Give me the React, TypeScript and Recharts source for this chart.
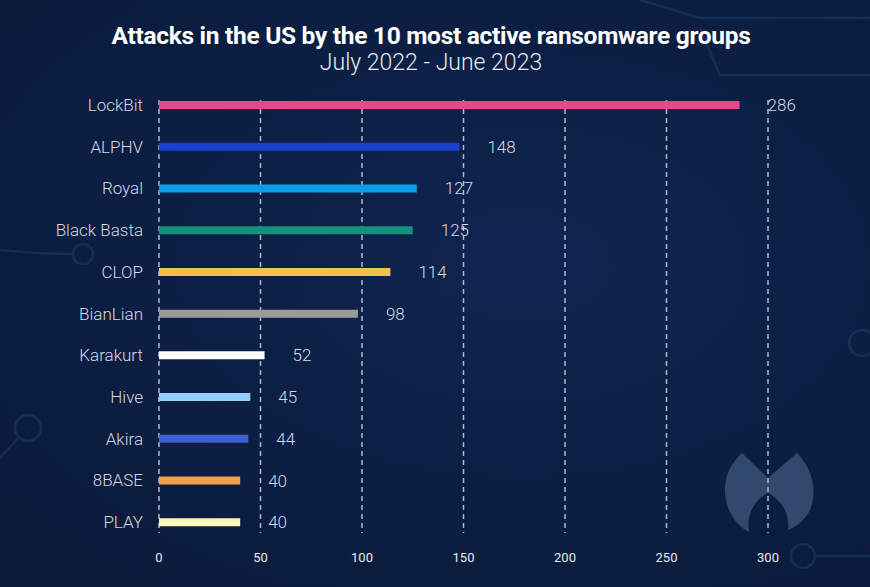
import React from "react";
import { BarChart, Bar, XAxis, YAxis, CartesianGrid, Cell, LabelList } from "recharts";

const groups = ["LockBit", "ALPHV", "Royal", "Black Basta", "CLOP", "BianLian", "Karakurt", "Hive", "Akira", "8BASE", "PLAY"];
const attacks = [286, 148, 127, 125, 114, 98, 52, 45, 44, 40, 40];
const barColors = ["#e8488a", "#1a40d0", "#0b9eea", "#14917f", "#f0c14b", "#9a9a9a", "#ffffff", "#8fcff8", "#3c5fd2", "#f2a04f", "#fff6bb"];
const xTicks = [0, 50, 100, 150, 200, 250, 300];

const title = "Attacks in the US by the 10 most active ransomware groups";
const subtitle = "July 2022 - June 2023";

const data = groups.map((g, i) => ({ name: g, value: attacks[i] }));

const FONT = "Roboto, 'Noto Sans', sans-serif";

export default function App() {
  return (
    <div
      style={{
        position: "absolute",
        left: 0,
        top: 0,
        width: 870,
        height: 587,
        overflow: "hidden",
        background: "radial-gradient(ellipse at 60% 45%, #0f2550 0%, #0c1f44 45%, #0a1a38 100%)",
        fontFamily: FONT,
      }}
    >
      <svg width={870} height={587} style={{ position: "absolute", left: 0, top: 0 }}>
        <g fill="none" stroke="#17335f" strokeWidth={2.5} opacity={0.8}>
          <path d="M640,0 L700,18 L870,18" />
          <path d="M700,28 L720,75 L870,75" />
          <path d="M0,250 C20,252 40,254 73,254" />
          <circle cx={83} cy={254} r={10} />
          <circle cx={28} cy={428} r={13} />
          <path d="M18,438 L0,458" />
          <circle cx={862} cy={343} r={13} />
          <circle cx={803} cy={556} r={12} />
          <path d="M815,556 L870,556" />
        </g>
        <path
          d="M742,453 L768,478 L797,453 C812,468 818,490 810,510 C804,522 795,527 788,530 C790,515 782,500 768,493 C754,500 746,515 749,532 C735,525 726,510 725,492 C724,477 731,463 742,453 Z"
          fill="#3a5176"
          opacity={0.85}
        />
      </svg>
      <div
        style={{
          position: "absolute",
          left: 0,
          top: 21,
          width: 862,
          textAlign: "center",
          color: "#ffffff",
          fontSize: 24.5,
          fontWeight: 700,
          lineHeight: "30px",
          letterSpacing: -0.3,
        }}
      >
        {title}
      </div>
      <div
        style={{
          position: "absolute",
          left: 0,
          top: 48,
          width: 862,
          textAlign: "center",
          color: "#e6e9f0",
          fontSize: 23,
          fontWeight: 300,
          lineHeight: "30px",
        }}
      >
        {subtitle}
      </div>
      <div style={{ position: "absolute", left: 0, top: 0 }}>
        <BarChart
          width={870}
          height={587}
          data={data}
          layout="vertical"
          margin={{ top: 84, right: 102, bottom: 14, left: 0 }}
        >
          <CartesianGrid
            horizontal={false}
            vertical={true}
            stroke="#aeb9cc"
            strokeWidth={1.5}
            strokeDasharray="5 4"
            y={100}
            height={433}
          />
          <XAxis
            type="number"
            domain={[0, 300]}
            ticks={xTicks}
            axisLine={false}
            tickLine={false}
            tickMargin={4}
            height={30}
            tick={{ fill: "#e6e9f0", fontSize: 13, fontFamily: FONT }}
          />
          <YAxis
            type="category"
            dataKey="name"
            width={159}
            interval={0}
            axisLine={false}
            tickLine={false}
            tickMargin={10}
            tick={{ fill: "#d4d9e3", fontSize: 17, fontWeight: 300, fontFamily: FONT }}
          />
          <Bar dataKey="value" barSize={8} isAnimationActive={false}>
            {data.map((d, i) => (
              <Cell key={d.name} fill={barColors[i]} />
            ))}
            <LabelList
              dataKey="value"
              position="right"
              offset={28}
              fill="#d4d9e3"
              fontSize={17}
              fontWeight={300}
              fontFamily={FONT}
            />
          </Bar>
        </BarChart>
      </div>
    </div>
  );
}
